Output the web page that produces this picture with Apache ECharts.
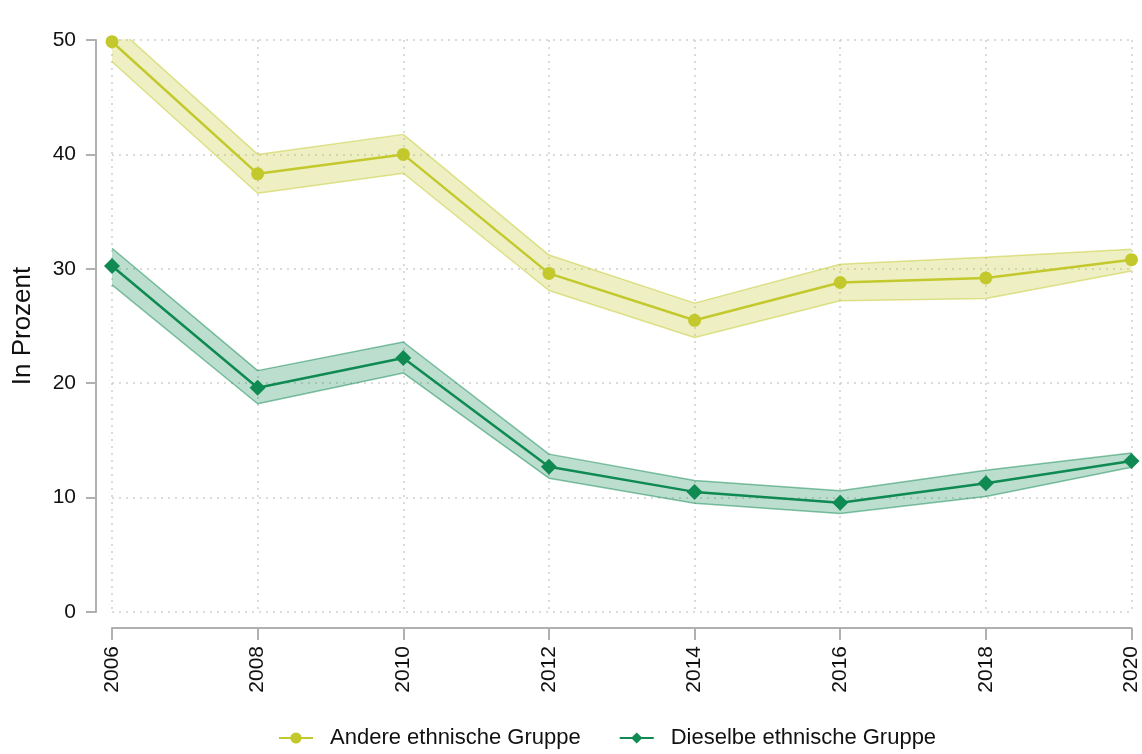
<!DOCTYPE html>
<html>
<head>
<meta charset="utf-8">
<script src="https://cdn.jsdelivr.net/npm/echarts@6/dist/echarts.min.js"></script>
<style>
html, body { margin: 0; padding: 0; background: #fff; }
#chart { width: 1142px; height: 754px; }
</style>
</head>
<body>
<div id="chart"></div>
<script>
// Daten
var years = ['2006', '2008', '2010', '2012', '2014', '2016', '2018', '2020'];

var andereWert = [49.85, 38.3, 40.0, 29.6, 25.5, 28.8, 29.2, 30.8];
var andereUnten = [48.1, 36.6, 38.35, 28.1, 24.0, 27.2, 27.4, 29.8];
var andereOben = [51.5, 40.0, 41.75, 31.2, 27.0, 30.4, 31.0, 31.7];

var dieselbeWert = [30.25, 19.6, 22.2, 12.7, 10.5, 9.55, 11.25, 13.2];
var dieselbeUnten = [28.6, 18.2, 20.9, 11.7, 9.5, 8.6, 10.1, 12.65];
var dieselbeOben = [31.8, 21.1, 23.6, 13.8, 11.5, 10.6, 12.4, 13.9];

var yTicks = [0, 10, 20, 30, 40, 50];

var colAndere = '#c3c92c';
var colDieselbe = '#0f8a52';

function diff(oben, unten) {
	var out = [];
	for (var i = 0; i < oben.length; i++) {
		out.push(+(oben[i] - unten[i]).toFixed(3));
	}
	return out;
}

// Konfidenzband als gestapelte Fläche
function band(stackName, unten, oben, fill, edge) {
	return [{
		type: 'line',
		name: stackName + '_u',
		stack: stackName,
		data: unten,
		symbol: 'none',
		silent: true,
		lineStyle: { color: edge, width: 1.5 },
		z: 1
	}, {
		type: 'line',
		name: stackName + '_o',
		stack: stackName,
		data: diff(oben, unten),
		symbol: 'none',
		silent: true,
		lineStyle: { color: edge, width: 1.5 },
		areaStyle: { color: fill, opacity: 1 },
		z: 1
	}];
}

var chart = echarts.init(document.getElementById('chart'));

var series = []
	.concat(band('a', andereUnten, andereOben, 'rgba(195,201,44,0.28)', 'rgba(195,201,44,0.5)'))
	.concat(band('d', dieselbeUnten, dieselbeOben, 'rgba(15,138,82,0.28)', 'rgba(15,138,82,0.5)'))
	.concat([{
		type: 'line',
		name: 'Andere ethnische Gruppe',
		data: andereWert,
		symbol: 'circle',
		symbolSize: 13,
		itemStyle: { color: colAndere },
		lineStyle: { color: colAndere, width: 2.5 },
		z: 3
	}, {
		type: 'line',
		name: 'Dieselbe ethnische Gruppe',
		data: dieselbeWert,
		symbol: 'diamond',
		symbolSize: 16,
		itemStyle: { color: colDieselbe },
		lineStyle: { color: colDieselbe, width: 2.5 },
		z: 3
	}]);

var option = {
	animation: false,
	textStyle: { fontFamily: 'Liberation Sans, Arial, sans-serif' },
	grid: { left: 112, right: 7, top: 40, bottom: 142 },
	legend: {
		data: ['Andere ethnische Gruppe', 'Dieselbe ethnische Gruppe'],
		bottom: 0,
		left: 273,
		itemWidth: 34,
		itemHeight: 14,
		itemGap: 38,
		textStyle: { fontSize: 22, color: '#111', padding: [0, 0, 0, 12] }
	},
	xAxis: {
		type: 'category',
		data: years,
		boundaryGap: false,
		offset: 16,
		axisLine: { onZero: false, lineStyle: { color: '#b0b0b0', width: 2 } },
		axisTick: { alignWithLabel: true, length: 12, lineStyle: { color: '#b0b0b0', width: 2 } },
		axisLabel: { rotate: 90, fontSize: 21, color: '#111', margin: 18 },
		splitLine: { show: true, lineStyle: { color: '#d0d0d0', type: [2, 5], width: 1.5 } }
	},
	yAxis: {
		type: 'value',
		min: yTicks[0],
		max: yTicks[yTicks.length - 1],
		interval: 10,
		offset: 16,
		name: 'In Prozent',
		nameLocation: 'middle',
		nameGap: 60,
		nameTextStyle: { fontSize: 26, color: '#111' },
		axisLine: { show: true, lineStyle: { color: '#b0b0b0', width: 2 } },
		axisTick: { show: true, length: 10, lineStyle: { color: '#b0b0b0', width: 2 } },
		axisLabel: { fontSize: 21, color: '#111', margin: 20 },
		splitLine: { show: true, lineStyle: { color: '#d0d0d0', type: [2, 5], width: 1.5 } }
	},
	series: series
};

chart.setOption(option);
</script>
</body>
</html>
